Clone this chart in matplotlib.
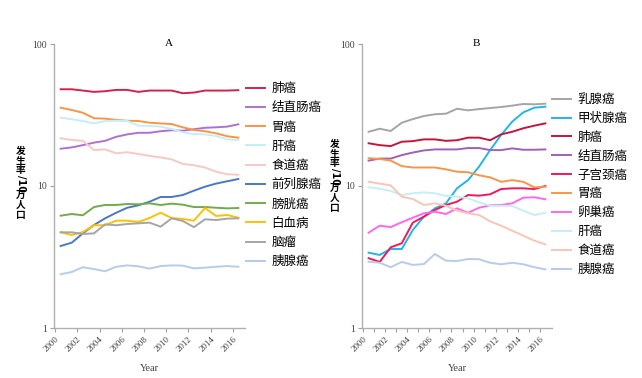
import numpy as np
import matplotlib
matplotlib.use('Agg')
import matplotlib.pyplot as plt

plt.rcParams['font.family'] = ['Noto Sans CJK SC', 'DejaVu Sans']

years = np.arange(2000, 2017)
tick_years = np.arange(2000, 2017, 2)

# 男性 (A)
names_a = ['肺癌', '结直肠癌', '胃癌', '肝癌', '食道癌', '前列腺癌', '膀胱癌', '白血病', '脑瘤', '胰腺癌']
lung_a = [48, 48, 47, 46, 46.5, 47.5, 47.5, 46, 47, 47, 47, 45, 45.5, 47, 47, 47, 47.3]
colorectal_a = [18.3, 18.7, 19.4, 20.2, 20.8, 22.2, 23.1, 23.7, 23.7, 24.3, 24.7, 24.5, 25.1, 25.7, 25.9, 26.2, 27.2]
stomach_a = [35.6, 34.3, 32.8, 30.0, 29.8, 29.2, 28.8, 28.7, 27.9, 27.6, 27.3, 25.9, 24.8, 24.3, 23.5, 22.4, 21.9]
liver_a = [30.3, 29.5, 28.7, 27.6, 28.7, 28.8, 28.7, 26.6, 26.5, 26.2, 25.2, 23.9, 23.2, 23.1, 22.5, 21.3, 21.1]
esophagus_a = [21.7, 21.1, 20.8, 17.9, 18.1, 17.0, 17.3, 16.8, 16.3, 15.9, 15.4, 14.3, 14.0, 13.5, 12.6, 12.1, 12.0]
prostate_a = [3.78, 3.99, 4.64, 5.31, 5.92, 6.48, 7.03, 7.31, 7.75, 8.37, 8.37, 8.64, 9.27, 9.89, 10.4, 10.8, 11.2]
bladder_a = [6.18, 6.35, 6.22, 7.11, 7.35, 7.35, 7.47, 7.43, 7.55, 7.35, 7.51, 7.39, 7.11, 7.11, 7.03, 6.96, 7.0]
leukemia_a = [4.72, 4.52, 4.74, 5.29, 5.29, 5.70, 5.70, 5.58, 5.95, 6.48, 5.95, 5.86, 5.70, 7.0, 6.15, 6.25, 5.98]
brain_a = [4.72, 4.72, 4.59, 4.64, 5.37, 5.29, 5.40, 5.46, 5.52, 5.17, 5.92, 5.67, 5.13, 5.83, 5.76, 5.89, 5.92]
pancreas_a = [2.39, 2.48, 2.68, 2.60, 2.51, 2.70, 2.76, 2.72, 2.62, 2.73, 2.76, 2.75, 2.63, 2.66, 2.70, 2.73, 2.70]
series_a = [lung_a, colorectal_a, stomach_a, liver_a, esophagus_a, prostate_a, bladder_a, leukemia_a, brain_a, pancreas_a]
colors_a = ['#d6204e', '#b070d0', '#f79646', '#c5eef5', '#f8c8c4', '#4a78c8', '#70ad47', '#ffc000', '#a5a5a5', '#b7cbea']

# 女性 (B)
names_b = ['乳腺癌', '甲状腺癌', '肺癌', '结直肠癌', '子宫颈癌', '胃癌', '卵巢癌', '肝癌', '食道癌', '胰腺癌']
breast_b = [24.1, 25.3, 24.4, 27.9, 29.6, 31.1, 32.0, 32.3, 35.0, 34.1, 34.8, 35.4, 36.0, 36.8, 37.8, 37.6, 38.0]
thyroid_b = [3.39, 3.27, 3.60, 3.60, 4.90, 6.08, 6.96, 7.55, 9.63, 11.0, 13.7, 17.9, 22.9, 28.4, 33.0, 35.6, 36.2]
lung_b = [20.0, 19.4, 19.1, 20.5, 20.7, 21.3, 21.3, 20.8, 21.0, 21.9, 21.9, 21.0, 23.1, 24.1, 25.5, 26.6, 27.6]
colorectal_b = [15.1, 15.6, 15.6, 16.5, 17.2, 17.8, 18.1, 18.1, 18.1, 18.5, 18.5, 17.9, 17.9, 18.4, 18.0, 18.0, 18.1]
cervix_b = [3.10, 2.92, 3.70, 3.95, 5.52, 6.08, 6.78, 7.35, 7.75, 8.64, 8.55, 8.74, 9.52, 9.63, 9.63, 9.52, 10.0]
stomach_b = [15.7, 15.5, 15.1, 13.8, 13.5, 13.5, 13.5, 13.1, 12.6, 12.5, 11.9, 11.5, 10.7, 11.0, 10.7, 9.79, 9.89]
ovary_b = [4.69, 5.25, 5.14, 5.55, 5.98, 6.42, 6.59, 6.35, 6.96, 6.48, 7.03, 7.31, 7.35, 7.55, 8.27, 8.33, 8.06]
liver_b = [9.79, 9.57, 9.22, 8.64, 8.88, 9.02, 8.88, 8.51, 8.41, 8.19, 7.67, 7.26, 7.26, 7.23, 6.70, 6.25, 6.48]
esophagus_b = [10.7, 10.4, 10.1, 8.41, 8.10, 7.35, 7.55, 7.26, 6.70, 6.42, 6.25, 5.64, 5.25, 4.84, 4.47, 4.12, 3.88]
pancreas_b = [2.93, 2.88, 2.68, 2.92, 2.78, 2.82, 3.32, 2.98, 2.96, 3.06, 3.05, 2.88, 2.81, 2.88, 2.81, 2.68, 2.59]
series_b = [breast_b, thyroid_b, lung_b, colorectal_b, cervix_b, stomach_b, ovary_b, liver_b, esophagus_b, pancreas_b]
colors_b = ['#a5a5a5', '#21b6ea', '#c8143c', '#a060b8', '#f0185c', '#f79646', '#ff66f0', '#c5eef5', '#fcc4b4', '#b7cbea']

fig = plt.figure(figsize=(6.42, 3.78), dpi=100)
W, H = 642, 378

def panel(left, right, title, names, series, colors, leg_x, leg_y, minor, spacing):
    ax = fig.add_axes([left / W, 1 - 328 / H, (right - left) / W, 284 / H])
    for name, vals, c in zip(names, series, colors):
        ax.plot(years, vals, color=c, lw=1.4, label=name)
    ax.set_yscale('log')
    ax.set_ylim(1, 100)
    ax.set_yticks([1, 10, 100])
    ax.set_yticklabels(['1', '10', '100'], family='Liberation Serif', fontsize=7, color='#404040')
    ax.yaxis.set_minor_locator(matplotlib.ticker.NullLocator())
    ax.set_xlim(1999.4, 2016.6)
    ax.set_xticks(tick_years - 0.5)
    ax.set_xticklabels([str(y) for y in tick_years], rotation=45, ha='right', va='top',
                       rotation_mode='anchor', family='Liberation Serif', fontsize=6.5, color='#404040')
    if minor:
        ax.set_xticks(years - 0.5, minor=True)
    ax.tick_params(axis='both', which='both', length=3, width=0.8, color='#a0a0a0', pad=2)
    for s in ['top', 'right']:
        ax.spines[s].set_visible(False)
    for s in ['left', 'bottom']:
        ax.spines[s].set_color('#b0b0b0')
        ax.spines[s].set_linewidth(1.0)
    ax.set_xlabel('Year', family='Liberation Serif', fontsize=7.5, color='#404040', labelpad=8)
    ax.text(0.6, 1.0, title, transform=ax.transAxes, ha='center', va='center',
            family='Liberation Serif', fontsize=8)
    ax.legend(loc='upper left', bbox_to_anchor=(leg_x / W, 1 - leg_y / H), bbox_transform=fig.transFigure,
              frameon=False, fontsize=9, handlelength=1.5, handletextpad=0.55,
              labelspacing=spacing, borderpad=0, borderaxespad=0)
    return ax

# 竖排的 y 轴标题: 每个字单独放
def ylabel(xc, ytop):
    kw = dict(ha='center', va='center', fontsize=7, fontweight='bold')
    offs = [0, 9.5, 19, 32, 44, 54, 64]
    parts = ['发', '生', '率', '/10', '万', '人', '口']
    for o, p in zip(offs, parts):
        if p == '/10':
            fig.text(xc / W, 1 - (ytop + o) / H, p, rotation=270, family=['DejaVu Sans'], **kw)
        else:
            fig.text(xc / W, 1 - (ytop + o) / H, p, **kw)

panel(54, 245, 'A', names_a, series_a, colors_a, 246, 82, False, 0.5)
panel(362, 552, 'B', names_b, series_b, colors_b, 552, 93, True, 0.47)
ylabel(21, 151)
ylabel(335, 144)

fig.savefig('out.png', dpi=100)
